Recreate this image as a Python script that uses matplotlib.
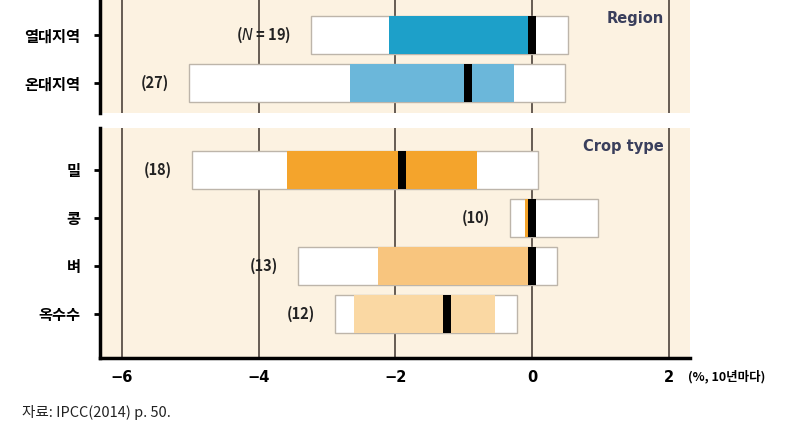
import matplotlib.pyplot as plt

plt.rcParams['font.family'] = ['Noto Sans CJK KR', 'DejaVu Sans']

# -- data (% change per decade) --
region_labels = ['열대지역', '온대지역']
region_n = ['(N = 19)', '(27)']
region_lo = [-3.23, -5.02]
region_q1 = [-2.10, -2.66]
region_med = [0.0, -0.94]
region_q3 = [0.0, -0.26]
region_hi = [0.52, 0.48]
region_colors = ['#1DA0C9', '#6BB7DA']

crop_labels = ['밀', '콩', '벼', '옥수수']
crop_n = ['(18)', '(10)', '(13)', '(12)']
crop_lo = [-4.98, -0.33, -3.42, -2.88]
crop_q1 = [-3.59, -0.11, -2.25, -2.61]
crop_med = [-1.90, 0.0, 0.0, -1.25]
crop_q3 = [-0.80, 0.0, 0.0, -0.54]
crop_hi = [0.09, 0.97, 0.36, -0.22]
crop_colors = ['#F4A42C', '#F4A42C', '#F8C57E', '#FAD8A3']

xticks = [-6, -4, -2, 0, 2]
bg = '#FCF2E1'

fig = plt.figure(figsize=(7.92, 4.32), dpi=100)
ax1 = fig.add_axes([100/792, 1 - 113/432, 590/792, 113/432])
ax2 = fig.add_axes([100/792, 1 - 358/432, 590/792, 230/432])


def draw_panel(ax, labels, ns, lo, q1, med, q3, hi, colors, title, ytop, ybot):
    ax.set_facecolor(bg)
    y = list(range(len(labels)))
    h = 0.79
    for x in xticks:
        ax.axvline(x, color='#5a5048', lw=1.3, zorder=1)
    ax.barh(y, [b - a for a, b in zip(lo, hi)], left=lo, height=h,
            color='white', edgecolor='#bdb5aa', lw=1.0, zorder=2)
    ax.barh(y, [b - a for a, b in zip(q1, q3)], left=q1, height=h,
            color=colors, lw=0, zorder=3)
    ax.barh(y, 0.12, left=[m - 0.06 for m in med], height=h,
            color='black', lw=0, zorder=4)
    for yi, n, a in zip(y, ns, lo):
        if n.startswith('(N'):
            ax.text(a - 0.29, yi, r'($\bf{\it{N}}$ = 19)', ha='right', va='center',
                    fontsize=10.5, fontweight='bold', color='#222222', zorder=5)
        else:
            ax.text(a - 0.29, yi, n, ha='right', va='center',
                    fontsize=10.5, fontweight='bold', color='#222222', zorder=5)
    ax.text(1.93, ytop + 0.38, title, ha='right', va='center', fontsize=10.5,
            fontweight='bold', color='#3A3F5C', family='DejaVu Sans')
    ax.set_xlim(-6.32, 2.31)
    ax.set_ylim(ybot, ytop)
    ax.set_yticks(y)
    ax.set_yticklabels(labels, fontsize=11, fontweight='bold')
    ax.tick_params(axis='y', length=4, width=2, pad=10)
    for s in ['top', 'right']:
        ax.spines[s].set_visible(False)
    ax.spines['left'].set_linewidth(2.5)


draw_panel(ax1, region_labels, region_n, region_lo, region_q1, region_med,
           region_q3, region_hi, region_colors, 'Region', -0.73, 1.625)
draw_panel(ax2, crop_labels, crop_n, crop_lo, crop_q1, crop_med,
           crop_q3, crop_hi, crop_colors, 'Crop type', -0.875, 3.92)

ax1.spines['bottom'].set_visible(False)
ax1.set_xticks([])
ax2.spines['bottom'].set_linewidth(2.5)
ax2.set_xticks(xticks)
ax2.set_xticklabels(['\u22126', '\u22124', '\u22122', '0', '2'], fontsize=10.5,
                    fontweight='bold', family='DejaVu Sans')
ax2.tick_params(axis='x', length=0, pad=9)

fig.text(688/792, 1 - 377/432, '(%, 10년마다)', fontsize=9, fontweight='bold',
         va='center', ha='left')
fig.text(22/792, 1 - 412/432, '자료: IPCC(2014) p. 50.', fontsize=10.5,
         va='center', ha='left', color='#222222')

fig.savefig('out.png', dpi=100)
